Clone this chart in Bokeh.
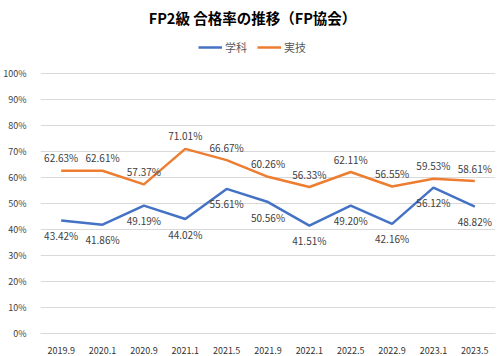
from bokeh.plotting import figure
from bokeh.models import (ColumnDataSource, NumeralTickFormatter, FixedTicker, Label, Legend, LegendItem, Range1d)
from bokeh.core.properties import value
from bokeh.embed import file_html
from bokeh.resources import INLINE

categories = ["2019.9", "2020.1", "2020.9", "2021.1", "2021.5", "2021.9",
              "2022.1", "2022.5", "2022.9", "2023.1", "2023.5"]
gakka = [43.42, 41.86, 49.19, 44.02, 55.61, 50.56, 41.51, 49.20, 42.16, 56.12, 48.82]
jitsugi = [62.63, 62.61, 57.37, 71.01, 66.67, 60.26, 56.33, 62.11, 56.55, 59.53, 58.61]
title_text = "FP2級 合格率の推移（FP協会）"
series_names = ["学科", "実技"]
yticks = [0, 0.1, 0.2, 0.3, 0.4, 0.5, 0.6, 0.7, 0.8, 0.9, 1.0]

BLUE = "#4472C4"
ORANGE = "#ED7D31"
FONT = "Noto Sans CJK JP"

src = ColumnDataSource(dict(
    x=categories,
    g=[v / 100 for v in gakka],
    j=[v / 100 for v in jitsugi],
    gl=["%.2f%%" % v for v in gakka],
    jl=["%.2f%%" % v for v in jitsugi],
))

# frame spans the full height; 100% lies at 73px from top, 0% at 333px
p = figure(width=500, height=356, x_range=categories, y_range=Range1d(0, 333 / 260),
           output_backend="svg", toolbar_location=None,
           min_border_left=38, min_border_right=5, min_border_top=0, min_border_bottom=23)
p.outline_line_color = None
p.background_fill_color = "white"
p.border_fill_color = "white"

r1 = p.line("x", "g", source=src, color=BLUE, line_width=2.5)
r2 = p.line("x", "j", source=src, color=ORANGE, line_width=2.5)

p.text("x", "j", text="jl", source=src, text_align="center", text_baseline="middle",
       y_offset=-13, text_font=value(FONT), text_font_size="10px", text_color="#404040")
p.text("x", "g", text="gl", source=src, text_align="center", text_baseline="middle",
       y_offset=15, text_font=value(FONT), text_font_size="10px", text_color="#404040")

p.yaxis.ticker = FixedTicker(ticks=yticks)
p.yaxis.formatter = NumeralTickFormatter(format="0%")
p.yaxis.axis_line_color = None
p.yaxis.major_tick_line_color = None
p.yaxis.minor_tick_line_color = None
p.yaxis.major_label_standoff = 8
p.yaxis.major_label_text_font = FONT
p.yaxis.major_label_text_font_size = "9px"
p.yaxis.major_label_text_color = "#404040"

p.xaxis.axis_line_color = "#d9d9d9"
p.xaxis.major_tick_line_color = None
p.xaxis.minor_tick_line_color = None
p.xaxis.major_label_standoff = 7
p.xaxis.major_label_text_font = FONT
p.xaxis.major_label_text_font_size = "9px"
p.xaxis.major_label_text_color = "#333333"

p.xgrid.grid_line_color = None
p.ygrid.grid_line_color = "#d9d9d9"
p.ygrid.grid_line_width = 1

legend = Legend(items=[LegendItem(label=series_names[0], renderers=[r1]),
                       LegendItem(label=series_names[1], renderers=[r2])],
                orientation="horizontal", location=(158, 278),
                glyph_width=24, glyph_height=12, label_text_font=FONT,
                label_text_font_size="11px", label_text_color="#595959",
                padding=0, margin=0, spacing=10, label_standoff=3,
                border_line_color=None, background_fill_alpha=0)
p.add_layout(legend, "center")

title = Label(x=212, y=316, x_units="screen", y_units="screen", text=title_text,
              text_align="center", text_baseline="middle", text_font=FONT,
              text_font_size="14.5px", text_font_style="bold", text_color="#000000")
p.add_layout(title)

open("out.html", "w").write(file_html(p, INLINE))
